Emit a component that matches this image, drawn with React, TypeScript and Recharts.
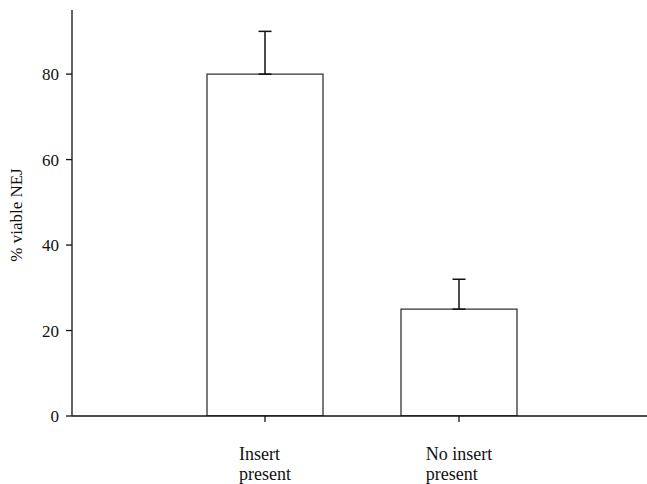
import { Bar, BarChart, ErrorBar, Label, XAxis, YAxis } from "recharts";

// Survival of newly excysted juveniles with / without the insert
const groups = ["Insert\npresent", "No insert\npresent"];
const viable = [80, 25];
const viableErr = [10, 7];
const yTicks = [0, 20, 40, 60, 80];

const FONT = '"Liberation Serif", "Times New Roman", Times, serif';

const data = groups.map((group, i) => ({
  group,
  viable: viable[i],
  // upward-only error bar
  err: [0, viableErr[i]],
}));

let ctx: CanvasRenderingContext2D | null = null;
function textWidth(s: string, size: number) {
  if (!ctx) ctx = document.createElement("canvas").getContext("2d");
  if (!ctx) return s.length * size * 0.5;
  ctx.font = `${size}px ${FONT}`;
  return ctx.measureText(s).width;
}

// two-line category label, lines left-aligned and the block centred on the tick
function GroupTick(props: any) {
  const { x, y, payload } = props;
  const lines = String(payload.value).split("\n");
  const w = Math.max(...lines.map((l) => textWidth(l, 18)));
  const left = x - w / 2;
  return (
    <text x={left} y={y} fill="#111" fontSize={18} fontFamily={FONT}>
      {lines.map((l, i) => (
        <tspan key={i} x={left} dy={i === 0 ? 38 : 19.5}>
          {l}
        </tspan>
      ))}
    </text>
  );
}

function YTitle(props: any) {
  const { viewBox } = props;
  const x = viewBox.x + 21.5;
  const y = viewBox.y + viewBox.height / 2 + 2;
  return (
    <text
      x={x}
      y={y}
      transform={`rotate(-90, ${x}, ${y})`}
      textAnchor="middle"
      fill="#111"
      fontSize={17}
      fontFamily={FONT}
    >
      % viable NEJ
    </text>
  );
}

export default function App() {
  return (
    <div style={{ position: "absolute", left: 0, top: 0, width: 647, height: 484, background: "#fff" }}>
      <BarChart
        width={647}
        height={484}
        data={data}
        margin={{ top: 10, right: 0, bottom: 0, left: 0 }}
      >
        <XAxis
          dataKey="group"
          height={68}
          padding={{ left: 96, right: 91 }}
          tickSize={6}
          tickMargin={0}
          tick={<GroupTick />}
          axisLine={{ stroke: "#111", strokeWidth: 1.3 }}
          tickLine={{ stroke: "#111", strokeWidth: 1.3 }}
          interval={0}
        />
        <YAxis
          width={72}
          domain={[0, 95]}
          ticks={yTicks}
          allowDataOverflow
          tickSize={6}
          tickMargin={7}
          tick={{ fill: "#111", fontSize: 17, fontFamily: FONT }}
          axisLine={{ stroke: "#111", strokeWidth: 1.3 }}
          tickLine={{ stroke: "#111", strokeWidth: 1.3 }}
        >
          <Label content={<YTitle />} />
        </YAxis>
        <Bar
          dataKey="viable"
          barSize={116}
          fill="#fff"
          stroke="#333"
          strokeWidth={1.3}
          isAnimationActive={false}
        >
          <ErrorBar dataKey="err" direction="y" width={6.5} stroke="#111" strokeWidth={1.5} />
        </Bar>
      </BarChart>
    </div>
  );
}
